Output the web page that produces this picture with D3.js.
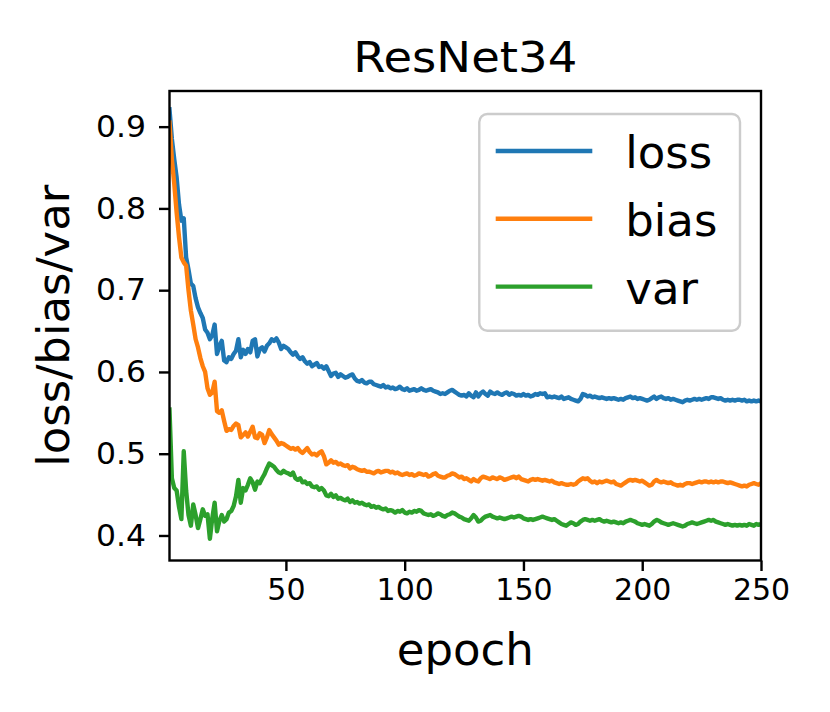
<!DOCTYPE html>
<html>
<head>
<meta charset="utf-8">
<script src="https://cdn.jsdelivr.net/npm/d3@7/dist/d3.min.js"></script>
<style>
  body { margin: 0; background: #fff; }
  text { font-family: "DejaVu Sans", sans-serif; fill: #000; }
</style>
</head>
<body>
<div id="chart"></div>
<script>
(function() {

  // values, one per epoch (1..250)
  var loss = [
    0.921,0.885,0.860,0.838,0.805,0.785,0.788,0.740,0.725,0.708,
    0.705,0.690,0.679,0.672,0.666,0.652,0.648,0.640,0.645,0.658,
    0.622,0.632,0.638,0.614,0.612,0.618,0.616,0.622,0.626,0.640,
    0.618,0.627,0.622,0.628,0.624,0.638,0.640,0.619,0.628,0.630,
    0.625,0.632,0.635,0.640,0.638,0.641,0.636,0.628,0.632,0.630,
    0.628,0.624,0.621,0.624,0.619,0.616,0.618,0.613,0.610,0.612,
    0.607,0.609,0.611,0.606,0.607,0.604,0.607,0.601,0.595,0.598,
    0.599,0.594,0.597,0.595,0.593,0.594,0.596,0.597,0.592,0.589,
    0.588,0.590,0.587,0.586,0.588,0.588,0.585,0.584,0.583,0.582,
    0.584,0.581,0.582,0.580,0.581,0.579,0.580,0.582,0.579,0.578,
    0.580,0.577,0.578,0.579,0.577,0.578,0.580,0.578,0.577,0.578,
    0.579,0.577,0.576,0.575,0.573,0.574,0.573,0.575,0.577,0.578,
    0.576,0.574,0.572,0.571,0.572,0.570,0.574,0.571,0.569,0.575,
    0.570,0.574,0.576,0.573,0.571,0.576,0.574,0.573,0.575,0.573,
    0.572,0.574,0.575,0.572,0.574,0.573,0.571,0.572,0.571,0.573,
    0.571,0.572,0.570,0.571,0.573,0.572,0.574,0.573,0.574,0.569,
    0.570,0.569,0.570,0.569,0.568,0.570,0.567,0.568,0.569,0.567,
    0.566,0.565,0.564,0.567,0.573,0.572,0.570,0.571,0.569,0.570,
    0.569,0.568,0.569,0.568,0.567,0.568,0.567,0.568,0.567,0.566,
    0.567,0.566,0.568,0.569,0.570,0.568,0.569,0.567,0.568,0.567,
    0.566,0.565,0.566,0.568,0.570,0.567,0.569,0.570,0.568,0.567,
    0.568,0.566,0.567,0.566,0.565,0.564,0.563,0.565,0.566,0.565,
    0.566,0.567,0.566,0.567,0.566,0.567,0.568,0.567,0.569,0.569,
    0.568,0.567,0.568,0.566,0.565,0.566,0.565,0.566,0.565,0.566,
    0.566,0.565,0.566,0.564,0.565,0.564,0.565,0.564,0.565,0.564
  ];

  var bias = [
    0.905,0.860,0.830,0.795,0.765,0.740,0.734,0.730,0.700,0.675,
    0.658,0.640,0.630,0.617,0.607,0.600,0.580,0.572,0.575,0.588,
    0.552,0.550,0.553,0.540,0.528,0.530,0.529,0.534,0.537,0.535,
    0.520,0.523,0.526,0.521,0.527,0.533,0.520,0.519,0.525,0.523,
    0.513,0.520,0.529,0.524,0.520,0.516,0.511,0.513,0.512,0.510,
    0.508,0.506,0.507,0.505,0.507,0.503,0.501,0.504,0.507,0.502,
    0.499,0.500,0.498,0.501,0.503,0.497,0.487,0.489,0.492,0.489,
    0.490,0.487,0.488,0.486,0.485,0.486,0.482,0.484,0.483,0.481,
    0.480,0.479,0.480,0.478,0.478,0.477,0.476,0.478,0.479,0.477,
    0.478,0.479,0.479,0.477,0.478,0.476,0.477,0.475,0.474,0.475,
    0.476,0.474,0.475,0.473,0.474,0.476,0.475,0.474,0.475,0.472,
    0.473,0.475,0.476,0.473,0.472,0.471,0.471,0.473,0.474,0.476,
    0.475,0.473,0.471,0.472,0.469,0.470,0.468,0.466,0.469,0.467,
    0.466,0.470,0.472,0.471,0.470,0.469,0.471,0.470,0.469,0.471,
    0.470,0.468,0.469,0.470,0.471,0.472,0.470,0.472,0.469,0.468,
    0.467,0.466,0.468,0.469,0.468,0.469,0.468,0.467,0.468,0.467,
    0.466,0.467,0.465,0.464,0.463,0.464,0.463,0.462,0.462,0.463,
    0.462,0.463,0.466,0.468,0.470,0.469,0.470,0.467,0.465,0.466,
    0.464,0.466,0.465,0.466,0.467,0.466,0.465,0.466,0.463,0.462,
    0.461,0.463,0.465,0.467,0.468,0.467,0.468,0.467,0.466,0.467,
    0.465,0.463,0.461,0.462,0.466,0.468,0.466,0.465,0.466,0.465,
    0.464,0.465,0.463,0.462,0.461,0.462,0.461,0.463,0.464,0.464,
    0.463,0.464,0.465,0.466,0.465,0.466,0.466,0.465,0.466,0.465,
    0.466,0.465,0.466,0.466,0.465,0.464,0.465,0.464,0.463,0.462,
    0.461,0.460,0.461,0.460,0.462,0.463,0.464,0.463,0.462,0.464
  ];

  var variance = [
    0.554,0.470,0.458,0.455,0.435,0.420,0.503,0.455,0.425,0.412,
    0.438,0.425,0.409,0.420,0.432,0.424,0.426,0.396,0.421,0.440,
    0.405,0.418,0.425,0.417,0.420,0.428,0.430,0.436,0.448,0.468,
    0.440,0.458,0.455,0.462,0.470,0.465,0.456,0.466,0.464,0.470,
    0.475,0.482,0.488,0.486,0.484,0.480,0.477,0.476,0.479,0.477,
    0.476,0.474,0.477,0.470,0.468,0.470,0.465,0.466,0.463,0.464,
    0.460,0.459,0.460,0.456,0.458,0.455,0.449,0.448,0.451,0.447,
    0.449,0.445,0.446,0.444,0.443,0.445,0.441,0.443,0.440,0.441,
    0.439,0.440,0.438,0.437,0.438,0.435,0.436,0.434,0.435,0.433,
    0.432,0.433,0.430,0.431,0.430,0.428,0.430,0.429,0.431,0.428,
    0.427,0.429,0.428,0.430,0.429,0.431,0.430,0.427,0.426,0.425,
    0.426,0.424,0.425,0.427,0.426,0.424,0.423,0.425,0.426,0.428,
    0.427,0.425,0.423,0.422,0.420,0.419,0.418,0.421,0.425,0.422,
    0.417,0.418,0.421,0.423,0.424,0.425,0.423,0.422,0.421,0.422,
    0.421,0.420,0.421,0.422,0.423,0.422,0.423,0.424,0.423,0.421,
    0.420,0.419,0.420,0.419,0.420,0.421,0.422,0.423,0.422,0.421,
    0.420,0.419,0.420,0.418,0.416,0.414,0.413,0.412,0.414,0.416,
    0.415,0.413,0.414,0.417,0.419,0.420,0.419,0.418,0.419,0.418,
    0.419,0.420,0.418,0.417,0.418,0.417,0.416,0.417,0.416,0.415,
    0.416,0.415,0.417,0.418,0.419,0.418,0.417,0.415,0.414,0.413,
    0.414,0.413,0.412,0.414,0.417,0.419,0.418,0.416,0.415,0.414,
    0.413,0.414,0.415,0.414,0.413,0.412,0.411,0.412,0.414,0.415,
    0.416,0.415,0.414,0.415,0.416,0.417,0.418,0.419,0.418,0.419,
    0.417,0.416,0.415,0.414,0.413,0.414,0.413,0.412,0.413,0.412,
    0.413,0.412,0.413,0.412,0.414,0.413,0.412,0.414,0.413,0.414
  ];

  var seriesNames = ["loss", "bias", "var"];
  var seriesColors = ["#1f77b4", "#ff7f0e", "#2ca02c"];
  var xTicks = [50, 100, 150, 200, 250];
  var yTicks = [0.4, 0.5, 0.6, 0.7, 0.8, 0.9];

  var margin = { top: 91, left: 169.5, right: 69, bottom: 151.5 },
  width = 830 - margin.left - margin.right,
  height = 712 - margin.top - margin.bottom;

  var svg = d3.select("#chart")
        .append("svg")
        .attr("width", 830)
        .attr("height", 712);

  var g = svg.append("g")
        .attr("transform", "translate(" + margin.left + "," + margin.top + ")");

  var epochs = d3.range(1, loss.length + 1);

  var x = d3.scaleLinear().domain([1, 250]).range([0, width]);
  var y = d3.scaleLinear().domain([0.3694, 0.9436]).range([height, 0]);

  g.append("clipPath").attr("id", "clip")
    .append("rect").attr("width", width).attr("height", height);

  var line = d3.line()
    .x(function(d, i){ return x(epochs[i]); })
    .y(function(d){ return y(d); });

  var allSeries = [loss, bias, variance];

  g.selectAll(".series")
    .data(allSeries)
    .enter().append("path")
    .attr("class", "series")
    .attr("clip-path", "url(#clip)")
    .attr("d", line)
    .attr("fill", "none")
    .attr("stroke", function(d, i){ return seriesColors[i]; })
    .attr("stroke-width", 4.4)
    .attr("stroke-linejoin", "round")
    .attr("stroke-linecap", "square");

  // axes
  var xAxis = g.append("g")
    .attr("transform", "translate(0," + height + ")")
    .call(d3.axisBottom(x).tickValues(xTicks).tickSize(10.5).tickPadding(8));

  var yAxis = g.append("g")
    .call(d3.axisLeft(y).tickValues(yTicks).tickSize(10.5).tickPadding(13)
      .tickFormat(d3.format(".1f")));

  [xAxis, yAxis].forEach(function(a){
    a.select(".domain").remove();
    a.selectAll(".tick line").attr("stroke", "#000").attr("stroke-width", 2.4);
    a.selectAll(".tick text")
      .attr("font-family", "DejaVu Sans")
      .attr("font-size", 30)
      .attr("fill", "#000");
  });

  // y tick labels are a little wider in the picture
  yAxis.selectAll(".tick text")
    .attr("textLength", 50)
    .attr("lengthAdjust", "spacingAndGlyphs");

  // frame
  g.append("rect")
    .attr("width", width)
    .attr("height", height)
    .attr("fill", "none")
    .attr("stroke", "#000")
    .attr("stroke-width", 2.4);

  // legend
  var legend = g.append("g")
    .attr("transform", "translate(" + (width - 281.7) + ",23)");

  legend.append("rect")
    .attr("width", 260.7)
    .attr("height", 216.7)
    .attr("rx", 8)
    .attr("fill", "#fff")
    .attr("fill-opacity", 0.8)
    .attr("stroke", "#cccccc")
    .attr("stroke-width", 2.4);

  var item = legend.selectAll(".item")
    .data(seriesNames)
    .enter().append("g")
    .attr("transform", function(d, i){ return "translate(0," + (37 + i * 67.8) + ")"; });

  item.append("line")
    .attr("x1", 16.4).attr("x2", 113)
    .attr("stroke", function(d, i){ return seriesColors[i]; })
    .attr("stroke-width", 4.4);

  item.append("text")
    .attr("x", 146)
    .attr("y", 17)
    .attr("font-size", 45)
    .text(function(d){ return d; });

  // titles
  svg.append("text")
    .attr("x", margin.left + width / 2)
    .attr("y", 71.7)
    .attr("text-anchor", "middle")
    .attr("font-size", 42)
    .attr("textLength", 224)
    .attr("lengthAdjust", "spacingAndGlyphs")
    .text("ResNet34");

  svg.append("text")
    .attr("x", margin.left + width / 2)
    .attr("y", 665)
    .attr("text-anchor", "middle")
    .attr("font-size", 45)
    .text("epoch");

  svg.append("text")
    .attr("transform", "translate(69," + (margin.top + height / 2) + ") rotate(-90)")
    .attr("text-anchor", "middle")
    .attr("font-size", 45)
    .text("loss/bias/var");

})();
</script>
</body>
</html>
